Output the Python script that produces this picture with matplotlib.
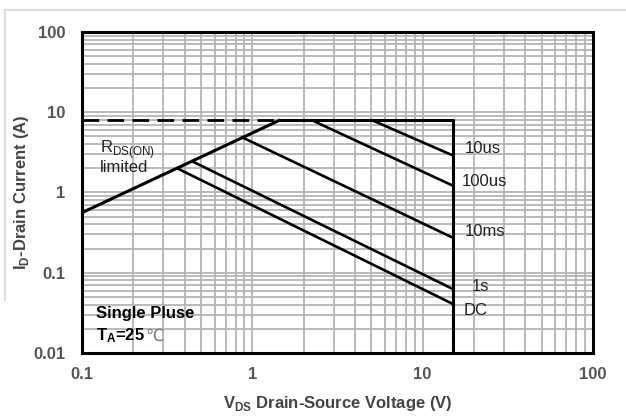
import matplotlib.pyplot as plt
from matplotlib.lines import Line2D

plt.rcParams["font.family"] = ["Liberation Sans", "DejaVu Sans"]
plt.rcParams["mathtext.fontset"] = "custom"
plt.rcParams["mathtext.rm"] = "Liberation Sans"
plt.rcParams["mathtext.bf"] = "Liberation Sans:bold"

# limits
i_max = 7.9
v_max = 15.0
rds_v = [0.1, 1.44]
rds_i = [0.56, 7.9]
dashed_v = [0.1, 1.44]

# pulse lines: (start V, start I) -> (v_max, end I)
pulse_names = ["10us", "100us", "10ms", "1s", "DC"]
pulse_v0 = [5.08, 2.25, 0.87, 0.444, 0.362]
pulse_i0 = [7.9, 7.9, 4.87, 2.44, 2.0]
pulse_i1 = [2.9, 1.22, 0.274, 0.063, 0.041]
label_x = [17.7, 17.1, 17.7, 19.4, 17.4]
label_i = [3.55, 1.37, 0.326, 0.067, 0.0335]

fig = plt.figure(figsize=(6.26, 4.17), dpi=100)
ax = fig.add_axes([0.131, 0.1535, 0.816, 0.770])
ax.set_xscale("log")
ax.set_yscale("log")
ax.set_xlim(0.1, 100)
ax.set_ylim(0.01, 100)

ax.grid(True, which="both", color="#b4b4b4", lw=1.3)
ax.set_axisbelow(True)
ax.tick_params(which="both", length=0)

lw = 2.2
ax.plot(dashed_v, [i_max, i_max], color="black", lw=2, ls=(0, (6, 3)))
ax.plot(rds_v, rds_i, color="black", lw=lw)
ax.plot([rds_v[1], v_max, v_max], [i_max, i_max, 0.01], color="black", lw=lw)
for v0, i0, i1 in zip(pulse_v0, pulse_i0, pulse_i1):
    ax.plot([v0, v_max], [i0, i1], color="black", lw=1.9)

for name, x, y in zip(pulse_names, label_x, label_i):
    ax.text(x, y, name, fontsize=12, color="#222222", va="center", ha="left")

ax.text(0.127, 3.4, r"R$_{\mathrm{DS(ON)}}$", fontsize=12, color="#222222",
        va="center")
ax.text(0.127, 2.05, "limited", fontsize=12, color="#222222", va="center")
ax.text(0.121, 0.0307, "Single Pluse", fontsize=12, fontweight="bold",
        va="center")
ta = ax.text(0.121, 0.0163, r"$\mathbf{T_A}$=25", fontsize=12,
             fontweight="bold", va="center")
ax.annotate("\u2103", xy=(1, 0.5), xycoords=ta, fontsize=12,
            color="#777777", va="center", ha="left", family=["DejaVu Sans"])

ax.set_xticks([0.1, 1, 10, 100])
ax.set_xticklabels(["0.1", "1", "10", "100"])
ax.set_yticks([0.01, 0.1, 1, 10, 100])
ax.set_yticklabels(["0.01", "0.1", "1", "10", "100"])
for lab in ax.get_xticklabels() + ax.get_yticklabels():
    lab.set_fontweight("bold")
    lab.set_fontsize(12)
    lab.set_color("#555555")
ax.tick_params(axis="x", pad=10)
ax.tick_params(axis="y", pad=12)

ax.set_xlabel(r"V$_{\mathbf{DS}}$ Drain-Source Voltage (V)", fontsize=12,
              fontweight="bold", color="#444444")
ax.xaxis.set_label_coords(0.5, -0.128)
ax.set_ylabel(r"I$_{\mathbf{D}}$-Drain Current (A)", fontsize=12,
              fontweight="bold", color="#444444")
ax.yaxis.set_label_coords(-0.1, 0.5)

for sp in ax.spines.values():
    sp.set_linewidth(2.2)
    sp.set_color("black")

fig.add_artist(Line2D([0.008, 1.0], [0.976, 0.976], color="#dddddd", lw=1.5))
fig.add_artist(Line2D([0.008, 0.008], [0.976, 0.28], color="#dddddd", lw=1.5))

fig.savefig("out.png", dpi=100)
